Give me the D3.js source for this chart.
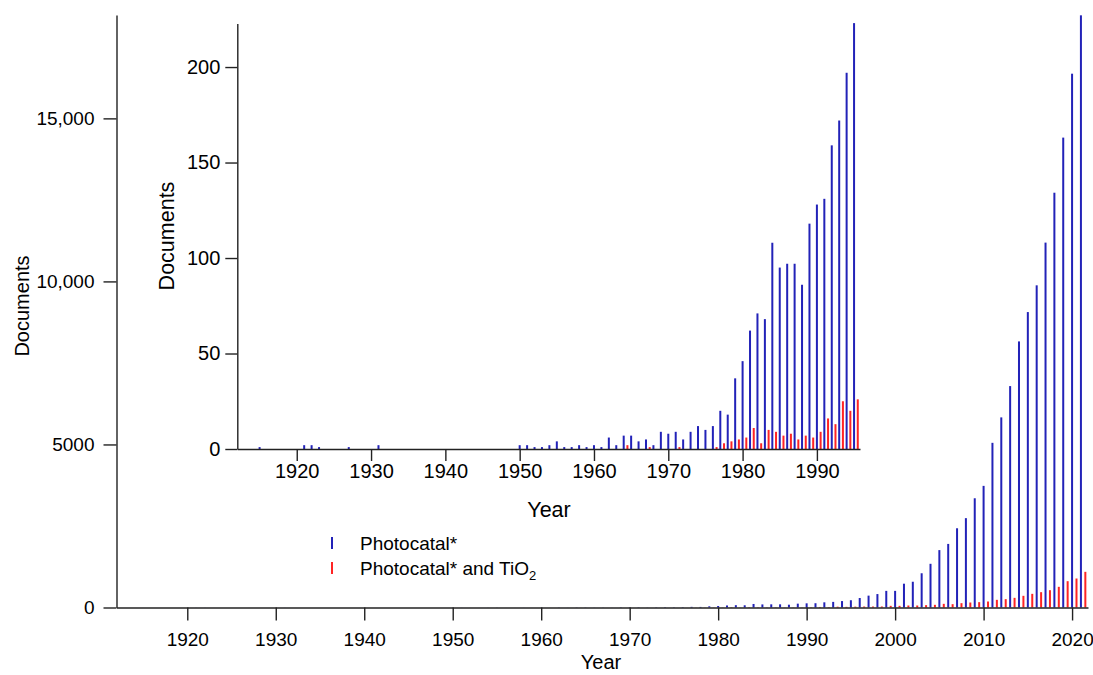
<!DOCTYPE html>
<html>
<head>
<meta charset="utf-8">
<script src="https://cdn.jsdelivr.net/npm/d3@7"></script>
<style>
  body { margin: 0; background: #fff; }
  svg { font-family: "Liberation Sans", Arial, sans-serif; }
  .axis path, .axis line { stroke: #222; stroke-width: 1.4; }
  .axis text { fill: #000; }
</style>
</head>
<body>
<div id="chart"></div>
<script>
// years 1912 - 2021
const firstYear = 1912;
const lastYear = 2021;

// documents matching "Photocatal*"
const photocatal = [
  0, 0, 0, 1, 0, 0, 0, 0, 0, 2,          // 1912-1921
  2, 1, 0, 0, 0, 1, 0, 0, 0, 2,          // 1922-1931
  0, 0, 0, 0, 0, 0, 0, 0, 0, 0,          // 1932-1941
  0, 0, 0, 0, 0, 0, 0, 0, 2, 2,          // 1942-1951
  1, 1, 2, 4, 1, 1, 2, 1, 2, 1,          // 1952-1961
  6, 2, 7, 7, 4, 5, 2, 9, 8, 9,          // 1962-1971
  5, 9, 12, 10, 12, 20, 18, 37, 46, 62,  // 1972-1981
  71, 68, 108, 95, 97, 97, 86, 118, 128, 131, // 1982-1991
  159, 172, 197, 223, 291, 364, 412, 510, 510, 730, // 1992-2001
  790, 1050, 1340, 1760, 1950, 2430, 2740, 3350, 3730, 5050, // 2002-2011
  5830, 6790, 8160, 9060, 9880, 11190, 12720, 14410, 16370, 18160 // 2012-2021
];

// documents matching "Photocatal* and TiO2"
const photocatalTiO2 = [
  0, 0, 0, 0, 0, 0, 0, 0, 0, 0,          // 1912-1921
  0, 0, 0, 0, 0, 0, 0, 0, 0, 0,          // 1922-1931
  0, 0, 0, 0, 0, 0, 0, 0, 0, 0,          // 1932-1941
  0, 0, 0, 0, 0, 0, 0, 0, 0, 0,          // 1942-1951
  0, 0, 0, 0, 0, 0, 0, 0, 0, 0,          // 1952-1961
  0, 0, 2, 0, 0, 1, 0, 0, 0, 1,          // 1962-1971
  0, 0, 0, 0, 1, 3, 4, 5, 6, 11,         // 1972-1981
  3, 10, 9, 7, 8, 5, 7, 6, 9, 16,        // 1982-1991
  13, 25, 20, 26, 30, 30, 31, 51, 51, 61, // 1992-2001
  61, 72, 82, 112, 102, 133, 153, 164, 184, 235, // 2002-2011
  256, 296, 358, 419, 470, 531, 634, 807, 889, 1094 // 2012-2021
];

const mainYTicks = [0, 5000, 10000, 15000];
const insetYTicks = [0, 50, 100, 150, 200];
const mainXTicks = [1920, 1930, 1940, 1950, 1960, 1970, 1980, 1990, 2000, 2010, 2020];
const insetXTicks = [1920, 1930, 1940, 1950, 1960, 1970, 1980, 1990];

const seriesNames = ["Photocatal*", "Photocatal* and TiO2"];
const seriesColors = ["#2222b8", "#ff2424"];

const data = photocatal.map((v, i) => ({
  year: firstYear + i,
  photocatal: v,
  tio2: photocatalTiO2[i]
}));

class BarPanel {
  constructor(_config, _data) {
    this.config = _config;
    this.data = _data;
    this.initVis();
  }

  initVis() {
    let vis = this;
    const c = vis.config;

    vis.g = c.svg.append("g");

    vis.xScale = d3.scaleLinear()
      .domain(c.xDomain)
      .range([c.left, c.right]);

    vis.yScale = d3.scaleLinear()
      .domain(c.yDomain)
      .range([c.bottom, c.top]);

    // bars: blue on the year, red half a year to the right
    const rows = vis.data.filter(d => d.year <= c.maxYear);

    vis.g.append("g")
      .selectAll("rect")
      .data(rows.filter(d => d.photocatal > 0))
      .join("rect")
      .attr("x", d => vis.xScale(d.year) - 1)
      .attr("width", 2)
      .attr("y", d => vis.yScale(d.photocatal))
      .attr("height", d => vis.yScale(0) - vis.yScale(d.photocatal))
      .attr("fill", seriesColors[0]);

    vis.g.append("g")
      .selectAll("rect")
      .data(rows.filter(d => d.tio2 > 0))
      .join("rect")
      .attr("x", d => vis.xScale(d.year + 0.5) - 1)
      .attr("width", 2)
      .attr("y", d => vis.yScale(d.tio2))
      .attr("height", d => vis.yScale(0) - vis.yScale(d.tio2))
      .attr("fill", seriesColors[1]);

    // axes
    vis.g.append("g")
      .attr("class", "axis")
      .attr("transform", `translate(0,${c.bottom})`)
      .call(d3.axisBottom(vis.xScale)
        .tickValues(c.xTicks)
        .tickFormat(d3.format("d"))
        .tickSize(c.tickSize)
        .tickSizeOuter(0)
        .tickPadding(c.xPad))
      .selectAll("text")
      .style("font-size", c.tickFont + "px");

    vis.g.append("g")
      .attr("class", "axis")
      .attr("transform", `translate(${c.left},0)`)
      .call(d3.axisLeft(vis.yScale)
        .tickValues(c.yTicks)
        .tickFormat(c.yFormat)
        .tickSize(c.tickSize)
        .tickSizeOuter(0)
        .tickPadding(c.yPad))
      .selectAll("text")
      .style("font-size", c.tickFont + "px");

    // axis titles
    vis.g.append("text")
      .attr("x", c.xTitle[0])
      .attr("y", c.xTitle[1])
      .attr("text-anchor", "middle")
      .style("font-size", c.titleFont + "px")
      .attr("fill", "#000")
      .text("Year");

    vis.g.append("text")
      .attr("transform", `translate(${c.yTitle[0]},${c.yTitle[1]}) rotate(-90)`)
      .attr("text-anchor", "middle")
      .attr("dominant-baseline", "central")
      .style("font-size", c.titleFont + "px")
      .attr("fill", "#000")
      .text("Documents");
  }
}

const svg = d3.select("#chart")
  .append("svg")
  .attr("width", 1093)
  .attr("height", 675);

const bigFormat = d => d >= 10000 ? d3.format(",")(d) : String(d);

// main chart
new BarPanel({
  svg: svg,
  left: 116.5, right: 1088,
  top: 15, bottom: 607.5,
  xDomain: [1912, 2021.8],
  yDomain: [0, 18170],
  maxYear: lastYear,
  xTicks: mainXTicks, yTicks: mainYTicks,
  yFormat: bigFormat,
  tickSize: 13, xPad: 12, yPad: 9,
  tickFont: 19, titleFont: 20,
  xTitle: [601, 669], yTitle: [22, 306]
}, data);

// inset chart
new BarPanel({
  svg: svg,
  left: 237.3, right: 860,
  top: 23.5, bottom: 449,
  xDomain: [1912, 1995.8],
  yDomain: [0, 222.8],
  maxYear: 1995,
  xTicks: insetXTicks, yTicks: insetYTicks,
  yFormat: d3.format("d"),
  tickSize: 12, xPad: 2.5, yPad: 5,
  tickFont: 20, titleFont: 21.5,
  xTitle: [549, 517], yTitle: [167, 236]
}, data);

// legend
const legend = svg.append("g").attr("transform", "translate(332,543)");

seriesNames.forEach((name, i) => {
  const row = legend.append("g").attr("transform", `translate(0,${i * 25})`);
  row.append("line")
    .attr("x1", 0).attr("x2", 0)
    .attr("y1", -6).attr("y2", 6)
    .attr("stroke", seriesColors[i])
    .attr("stroke-width", 2);
  const t = row.append("text")
    .attr("x", 28)
    .attr("y", 7)
    .attr("fill", "#000")
    .style("font-size", "19px");
  if (name.endsWith("TiO2")) {
    t.append("tspan").text("Photocatal* and TiO");
    t.append("tspan").attr("dy", 5).style("font-size", "13px").text("2");
  } else {
    t.text(name);
  }
});
</script>
</body>
</html>
